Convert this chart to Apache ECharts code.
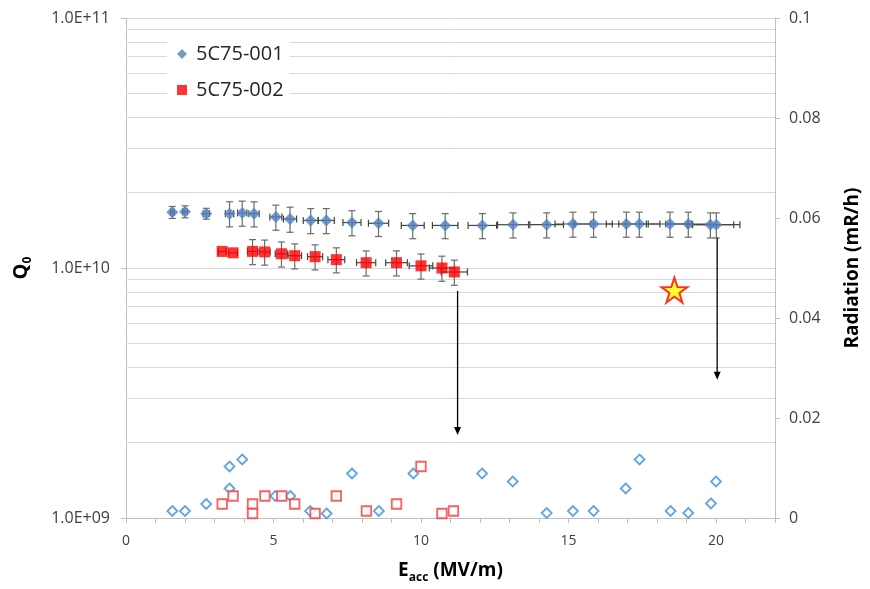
<!DOCTYPE html>
<html>
<head>
<meta charset="utf-8">
<script src="https://cdn.jsdelivr.net/npm/echarts@6/dist/echarts.min.js"></script>
<style>
html,body{margin:0;padding:0;background:#fff;}
#c{width:870px;height:589px;}
</style>
</head>
<body>
<div id="c"></div>
<script>
// ---- data ----
const eacc1 = [1.57, 2.00, 2.72, 3.51, 3.94, 4.34, 5.08, 5.56, 6.26, 6.79, 7.66, 8.56, 9.72, 10.82, 12.08, 13.12, 14.26, 15.15, 15.85, 16.96, 17.40, 18.44, 19.06, 19.81, 20.01];
const q1 = [1.67e10, 1.68e10, 1.65e10, 1.65e10, 1.66e10, 1.65e10, 1.60e10, 1.57e10, 1.55e10, 1.55e10, 1.52e10, 1.51e10, 1.48e10, 1.48e10, 1.48e10, 1.49e10, 1.49e10, 1.50e10, 1.50e10, 1.50e10, 1.50e10, 1.50e10, 1.50e10, 1.49e10, 1.49e10];
const q1ErrRel = [0.055, 0.055, 0.05, 0.115, 0.115, 0.115, 0.115, 0.115, 0.115, 0.115, 0.115, 0.115, 0.115, 0.115, 0.115, 0.115, 0.115, 0.115, 0.115, 0.115, 0.115, 0.115, 0.115, 0.115, 0.115];

const eacc2 = [3.26, 3.63, 4.29, 4.70, 5.27, 5.72, 6.41, 7.13, 8.14, 9.17, 10.00, 10.71, 11.13];
const q2 = [1.165e10, 1.15e10, 1.165e10, 1.16e10, 1.14e10, 1.12e10, 1.11e10, 1.08e10, 1.05e10, 1.05e10, 1.02e10, 1.00e10, 9.64e9];
const q2ErrRel = [0, 0, 0.115, 0.115, 0.115, 0.115, 0.115, 0.115, 0.115, 0.115, 0.115, 0.115, 0.115];

const eaccErrRel = 0.04;

const radE1 = [1.57, 2.00, 2.72, 3.51, 3.51, 3.94, 5.06, 5.57, 6.24, 6.80, 7.66, 8.57, 9.74, 12.07, 13.11, 14.26, 15.15, 15.85, 16.94, 17.41, 18.46, 19.06, 19.83, 20.00];
const rad1 = [0.0014, 0.0014, 0.0028, 0.0059, 0.0103, 0.0117, 0.0044, 0.0044, 0.0014, 0.0009, 0.0089, 0.0014, 0.0089, 0.0089, 0.0073, 0.0010, 0.0014, 0.0014, 0.0059, 0.0117, 0.0014, 0.0010, 0.0029, 0.0073];

const radE2 = [3.26, 3.63, 4.29, 4.29, 4.71, 5.28, 5.72, 6.41, 7.13, 8.15, 9.17, 10.00, 10.71, 11.10];
const rad2 = [0.0028, 0.0044, 0.0028, 0.0009, 0.0044, 0.0044, 0.0028, 0.0009, 0.0044, 0.0014, 0.0028, 0.0103, 0.0009, 0.0014];

const starE = [18.59];
const starQ = [8.16e9];

const arrowE = [11.24, 20.04];
const arrowTop = [8.1e9, 1.32e10];
const arrowBottom = [2.15e9, 3.57e9];

const minorGrid = [2e9, 3e9, 4e9, 5e9, 6e9, 7e9, 8e9, 9e9, 2e10, 3e10, 4e10, 5e10, 6e10, 7e10, 8e10, 9e10];

const xTicks = { min: 0, max: 22, step: 1, labelStep: 5 };
const radTicks = { min: 0, max: 0.1, step: 0.02 };

// ---- build ----
function errData(xs, ys, yRel) {
  return xs.map((x, i) => [x, ys[i], ys[i] * (1 - yRel[i]), ys[i] * (1 + yRel[i]), x * (1 - eaccErrRel), x * (1 + eaccErrRel)]);
}
function renderErr(params, api) {
  const x = api.value(0), y = api.value(1), ylo = api.value(2), yhi = api.value(3), xlo = api.value(4), xhi = api.value(5);
  const pLo = api.coord([x, ylo]), pHi = api.coord([x, yhi]);
  const qLo = api.coord([xlo, y]), qHi = api.coord([xhi, y]);
  const cap = 3.5;
  const vs = { stroke: '#6b6b6b', lineWidth: 1.2 };
  const hs = { stroke: '#444', lineWidth: 1.2 };
  const ch = [];
  if (yhi > ylo) {
    ch.push({ type: 'line', shape: { x1: pLo[0], y1: pLo[1], x2: pHi[0], y2: pHi[1] }, style: vs });
    ch.push({ type: 'line', shape: { x1: pLo[0] - cap, y1: pLo[1], x2: pLo[0] + cap, y2: pLo[1] }, style: vs });
    ch.push({ type: 'line', shape: { x1: pHi[0] - cap, y1: pHi[1], x2: pHi[0] + cap, y2: pHi[1] }, style: vs });
  }
  ch.push({ type: 'line', shape: { x1: qLo[0], y1: qLo[1], x2: qHi[0], y2: qHi[1] }, style: hs });
  ch.push({ type: 'line', shape: { x1: qLo[0], y1: qLo[1] - cap, x2: qLo[0], y2: qLo[1] + cap }, style: hs });
  ch.push({ type: 'line', shape: { x1: qHi[0], y1: qHi[1] - cap, x2: qHi[0], y2: qHi[1] + cap }, style: hs });
  return { type: 'group', children: ch };
}
function renderArrow(params, api) {
  const x = api.value(0);
  const t = api.coord([x, api.value(1)]);
  const b = api.coord([x, api.value(2)]);
  return {
    type: 'group', children: [
      { type: 'line', shape: { x1: t[0], y1: t[1], x2: b[0], y2: b[1] - 6 }, style: { stroke: '#000', lineWidth: 1.3 } },
      { type: 'polygon', shape: { points: [[b[0] - 3.5, b[1] - 8], [b[0] + 3.5, b[1] - 8], [b[0], b[1]]] }, style: { fill: '#000' } }
    ]
  };
}

const FONT = 'Open Sans';
const axisGray = '#BFBFBF';
const labelColor = '#404040';

const chart = echarts.init(document.getElementById('c'), null, { renderer: 'canvas' });
chart.setOption({
  animation: false,
  backgroundColor: '#fff',
  textStyle: { fontFamily: FONT },
  grid: { left: 126, right: 92, top: 18, bottom: 67 },
  legend: {
    orient: 'vertical', left: 167, top: 35,
    backgroundColor: '#fff', padding: [8, 6, 6, 10],
    itemWidth: 10, itemHeight: 10, itemGap: 14,
    textStyle: { fontFamily: FONT, fontSize: 20, color: '#262626', lineHeight: 22, padding: [0, 0, 0, 4] },
    data: [{ name: '5C75-001', icon: 'diamond' }, { name: '5C75-002', icon: 'rect' }]
  },
  xAxis: {
    type: 'value', min: xTicks.min, max: xTicks.max, interval: xTicks.step,
    name: '{e|E}{s|acc}{e| (MV/m)}', nameLocation: 'middle', nameGap: 40,
    nameTextStyle: { rich: {
      e: { fontFamily: FONT, fontSize: 19, fontWeight: 'bold', color: '#000', lineHeight: 26 },
      s: { fontFamily: FONT, fontSize: 12, fontWeight: 'bold', color: '#000', lineHeight: 14, verticalAlign: 'bottom' }
    } },
    axisLine: { lineStyle: { color: axisGray } },
    axisTick: { show: true, inside: false, length: 5, lineStyle: { color: axisGray } },
    axisLabel: { fontFamily: FONT, fontSize: 14, color: labelColor, margin: 16,
      formatter: v => (Math.abs(v % xTicks.labelStep) < 1e-9 ? String(v) : '') },
    splitLine: { show: false }
  },
  yAxis: [{
    type: 'log', logBase: 10, min: 1e9, max: 1e11,
    name: '{e|Q}{s|0}', nameLocation: 'middle', nameGap: 92,
    nameTextStyle: { rich: {
      e: { fontFamily: FONT, fontSize: 20, fontWeight: 'bold', color: '#000', lineHeight: 26 },
      s: { fontFamily: FONT, fontSize: 12, fontWeight: 'bold', color: '#000', lineHeight: 14, verticalAlign: 'bottom' }
    } },
    axisLine: { show: true, lineStyle: { color: axisGray } },
    axisTick: { show: true, inside: false, length: 5, lineStyle: { color: axisGray } },
    axisLabel: { fontFamily: FONT, fontSize: 16, color: labelColor, margin: 16,
      formatter: v => { const e = Math.round(Math.log10(v)); return '1.0E+' + (e < 10 ? '0' : '') + e; } },
    splitLine: { show: true, lineStyle: { color: '#D9D9D9', width: 1 } }
  }, {
    type: 'value', min: radTicks.min, max: radTicks.max, interval: radTicks.step, position: 'right',
    name: 'Radiation (mR/h)', nameLocation: 'middle', nameRotate: 90, nameGap: 68,
    nameTextStyle: { fontFamily: FONT, fontSize: 19, fontWeight: 'bold', color: '#000' },
    axisLine: { show: true, lineStyle: { color: axisGray } },
    axisTick: { show: true, inside: false, length: 5, lineStyle: { color: axisGray } },
    axisLabel: { fontFamily: FONT, fontSize: 16, color: labelColor, margin: 14,
      formatter: v => String(+v.toFixed(4)) },
    splitLine: { show: false }
  }],
  series: [
    {
      type: 'line', data: [], silent: true,
      markLine: {
        silent: true, symbol: ['none', 'none'], z: 1, label: { show: false },
        lineStyle: { color: '#D9D9D9', width: 1, type: 'solid' },
        data: minorGrid.map(v => ({ yAxis: v }))
      }
    },
    {
      type: 'custom', name: 'err1', z: 6, renderItem: renderErr, silent: true,
      encode: { x: 0, y: 1 }, data: errData(eacc1, q1, q1ErrRel)
    },
    {
      type: 'custom', name: 'err2', z: 6, renderItem: renderErr, silent: true,
      encode: { x: 0, y: 1 }, data: errData(eacc2, q2, q2ErrRel)
    },
    {
      type: 'custom', name: 'arrows', z: 7, renderItem: renderArrow, silent: true,
      encode: { x: 0, y: 1 }, data: arrowE.map((x, i) => [x, arrowTop[i], arrowBottom[i]])
    },
    {
      type: 'scatter', name: '5C75-001', z: 10, symbol: 'diamond', symbolSize: [12, 12],
      itemStyle: { color: '#4F81BD' }, data: eacc1.map((x, i) => [x, q1[i]])
    },
    {
      type: 'scatter', name: '5C75-002', z: 10, symbol: 'rect', symbolSize: 11,
      itemStyle: { color: '#FF0000' }, data: eacc2.map((x, i) => [x, q2[i]])
    },
    {
      type: 'scatter', name: 'rad1', yAxisIndex: 1, z: 9, symbol: 'diamond', symbolSize: 10,
      itemStyle: { color: '#fff', borderColor: '#3A8FD9', borderWidth: 1.8 },
      data: radE1.map((x, i) => [x, rad1[i]])
    },
    {
      type: 'scatter', name: 'rad2', yAxisIndex: 1, z: 9, symbol: 'rect', symbolSize: 9.5,
      itemStyle: { color: '#fff', borderColor: '#F23B3B', borderWidth: 1.8 },
      data: radE2.map((x, i) => [x, rad2[i]])
    },
    {
      type: 'scatter', name: 'star', z: 10,
      symbol: 'path://M50,0 L61.8,35.1 L98.9,35.1 L68.9,56.9 L80.2,91.9 L50,70.2 L19.8,91.9 L31.1,56.9 L1.1,35.1 L38.2,35.1 Z',
      symbolSize: [26, 25],
      itemStyle: { color: '#FFFF00', borderColor: '#FF0000', borderWidth: 2 },
      data: starE.map((x, i) => [x, starQ[i]])
    }
  ]
});
</script>
</body>
</html>
